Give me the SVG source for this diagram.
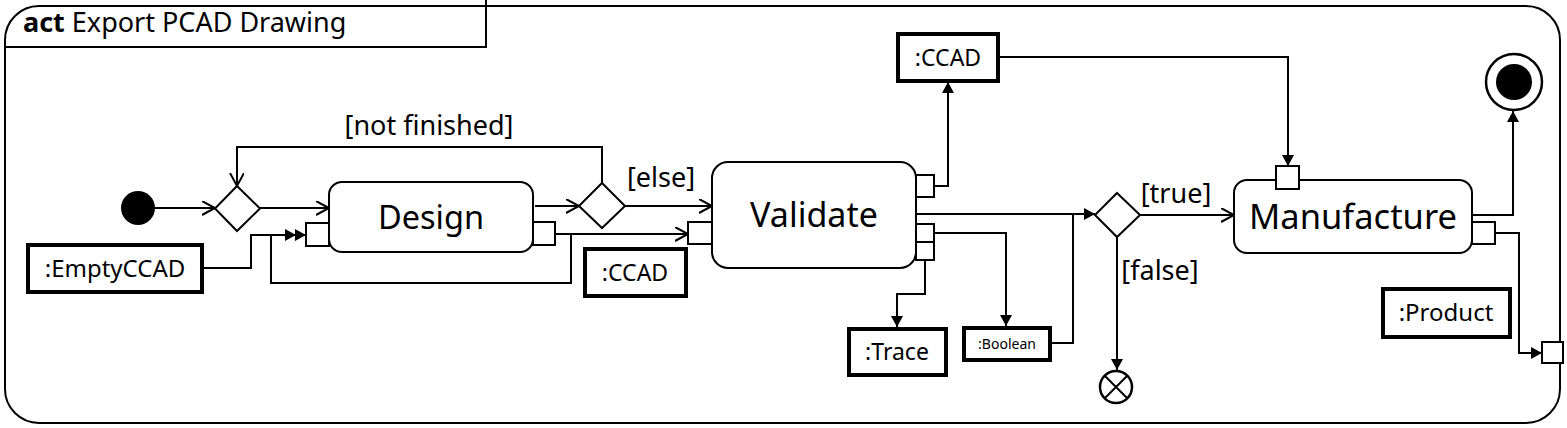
<svg xmlns="http://www.w3.org/2000/svg" width="1567" height="428" viewBox="0 0 1567 428">
<style>
.ln{fill:none;stroke:#000;stroke-width:2}
.act{fill:#fff;stroke:#000;stroke-width:2}
.obj{fill:#fff;stroke:#000;stroke-width:4}
.pin{fill:#fff;stroke:#000;stroke-width:2}
.t{font-family:"Noto Sans","Open Sans","DejaVu Sans",sans-serif;fill:#000}
.g{font-size:27px;text-anchor:middle}
.o{font-size:23px;text-anchor:middle}
</style>
<defs>
<marker id="open" markerUnits="userSpaceOnUse" markerWidth="16" markerHeight="16" refX="13" refY="7" orient="auto" viewBox="0 0 16 16">
<path d="M0,0 L13,7 L0,14" fill="none" stroke="#000" stroke-width="2"/>
</marker>
<marker id="fill" markerUnits="userSpaceOnUse" markerWidth="14" markerHeight="14" refX="11" refY="6" orient="auto" viewBox="0 0 14 14">
<path d="M0,0 L11,6 L0,12 Z" fill="#000"/>
</marker>
<marker id="dbl" markerUnits="userSpaceOnUse" markerWidth="24" markerHeight="14" refX="21" refY="6" orient="auto" viewBox="0 0 24 14">
<path d="M0,0 L11,6 L0,12 Z M10,0 L21,6 L10,12 Z" fill="#000"/>
</marker>
</defs>

<g id="frame">
<rect x="5" y="6" width="1555" height="417" rx="34" ry="34" fill="#fff" stroke="#000" stroke-width="2"/>
<path class="ln" d="M5,47 H486 V0"/>
<text class="t" x="23" y="32" font-size="27"><tspan font-weight="bold">act</tspan> Export PCAD Drawing</text>
</g>

<g id="connectors">
<line class="ln" x1="155" y1="208" x2="215" y2="208" marker-end="url(#open)"/>
<line class="ln" x1="260" y1="208" x2="329" y2="208" marker-end="url(#open)"/>
<polyline class="ln" points="203,268 251,268 251,235 306,235" marker-end="url(#dbl)"/>
<polyline class="ln" points="571,234 571,283 271,283 271,235"/>
<line class="ln" x1="535" y1="206" x2="579" y2="206" marker-end="url(#open)"/>
<polyline class="ln" points="602,183 602,147 237,147 237,186" marker-end="url(#open)"/>
<line class="ln" x1="625" y1="206" x2="712" y2="206" marker-end="url(#open)"/>
<line class="ln" x1="555" y1="234" x2="688" y2="234" marker-end="url(#open)"/>
<polyline class="ln" points="934,186 948,186 948,82" marker-end="url(#fill)"/>
<line class="ln" x1="916" y1="214" x2="1095" y2="214" marker-end="url(#fill)"/>
<polyline class="ln" points="934,233 1006,233 1006,326" marker-end="url(#fill)"/>
<polyline class="ln" points="1051,343 1073,343 1073,214"/>
<polyline class="ln" points="925,260 925,294 897,294 897,327" marker-end="url(#fill)"/>
<line class="ln" x1="1117" y1="237" x2="1117" y2="370" marker-end="url(#fill)"/>
<line class="ln" x1="1140" y1="215" x2="1234" y2="215" marker-end="url(#open)"/>
<polyline class="ln" points="999,57 1288,57 1288,166" marker-end="url(#fill)"/>
<polyline class="ln" points="1472,215 1513,215 1513,111" marker-end="url(#fill)"/>
<polyline class="ln" points="1495,233 1519,233 1519,353 1542,353" marker-end="url(#fill)"/>
<text class="t g" x="429" y="135">[not finished]</text>
<text class="t g" x="661" y="187">[else]</text>
<text class="t g" x="1176" y="203">[true]</text>
<text class="t g" x="1160" y="280">[false]</text>
</g>

<g id="initial"><circle cx="138" cy="208" r="17" fill="#000"/></g>
<g id="merge1"><path class="act" d="M237,186 L260,208.5 L237,231 L215,208.5 Z"/></g>

<g id="design">
<rect class="act" x="329" y="182" width="204" height="70" rx="13"/>
<text class="t" x="431" y="229" font-size="32.5" text-anchor="middle">Design</text>
<rect class="pin" x="306" y="223" width="23" height="23"/>
<rect class="pin" x="533" y="222" width="22" height="23"/>
</g>

<g id="decision2"><path class="act" d="M602,183 L625,206 L602,228 L579,206 Z"/></g>

<g id="emptyccad">
<rect class="obj" x="28" y="245" width="174" height="47"/>
<text class="t" x="115" y="277" font-size="24" text-anchor="middle">:EmptyCCAD</text>
</g>

<g id="ccad1">
<rect class="obj" x="585" y="249" width="101" height="47"/>
<text class="t o" x="635" y="281">:CCAD</text>
</g>

<g id="validate">
<rect class="act" x="712" y="162" width="204" height="106" rx="16"/>
<text class="t" x="814" y="227" font-size="34" text-anchor="middle">Validate</text>
<rect class="pin" x="688" y="222" width="24" height="22"/>
<rect class="pin" x="916" y="175" width="18" height="22"/>
<rect class="pin" x="916" y="224" width="18" height="18"/>
<rect class="pin" x="916" y="242" width="18" height="18"/>
</g>

<g id="ccad2">
<rect class="obj" x="898" y="34" width="100" height="47"/>
<text class="t o" x="948" y="66">:CCAD</text>
</g>

<g id="trace">
<rect class="obj" x="849" y="329" width="97" height="46"/>
<text class="t o" x="897" y="360">:Trace</text>
</g>

<g id="boolean">
<rect class="obj" x="964" y="328" width="86" height="32"/>
<text class="t" x="1007" y="349" font-size="14" text-anchor="middle">:Boolean</text>
</g>

<g id="decision3"><path class="act" d="M1117,193 L1140,215 L1117,237 L1095,215 Z"/></g>

<g id="flowfinal">
<circle cx="1116" cy="387" r="16" fill="#fff" stroke="#000" stroke-width="2.5"/>
<path class="ln" stroke-width="2.5" d="M1105,376 L1127,398 M1127,376 L1105,398"/>
</g>

<g id="manufacture">
<rect class="act" x="1234" y="180" width="238" height="73" rx="13"/>
<text class="t" x="1353" y="229" font-size="34.5" text-anchor="middle">Manufacture</text>
<rect class="pin" x="1276" y="166" width="23" height="23"/>
<rect class="pin" x="1472" y="222" width="23" height="22"/>
</g>

<g id="final">
<circle cx="1514" cy="82" r="28" fill="#fff" stroke="#000" stroke-width="2.5"/>
<circle cx="1514" cy="82" r="18" fill="#000"/>
</g>

<g id="product">
<rect class="obj" x="1383" y="289" width="127" height="48"/>
<text class="t" x="1446" y="321" font-size="24" text-anchor="middle">:Product</text>
</g>

<g id="framepin"><rect class="pin" x="1542" y="342" width="21" height="21"/></g>
</svg>
